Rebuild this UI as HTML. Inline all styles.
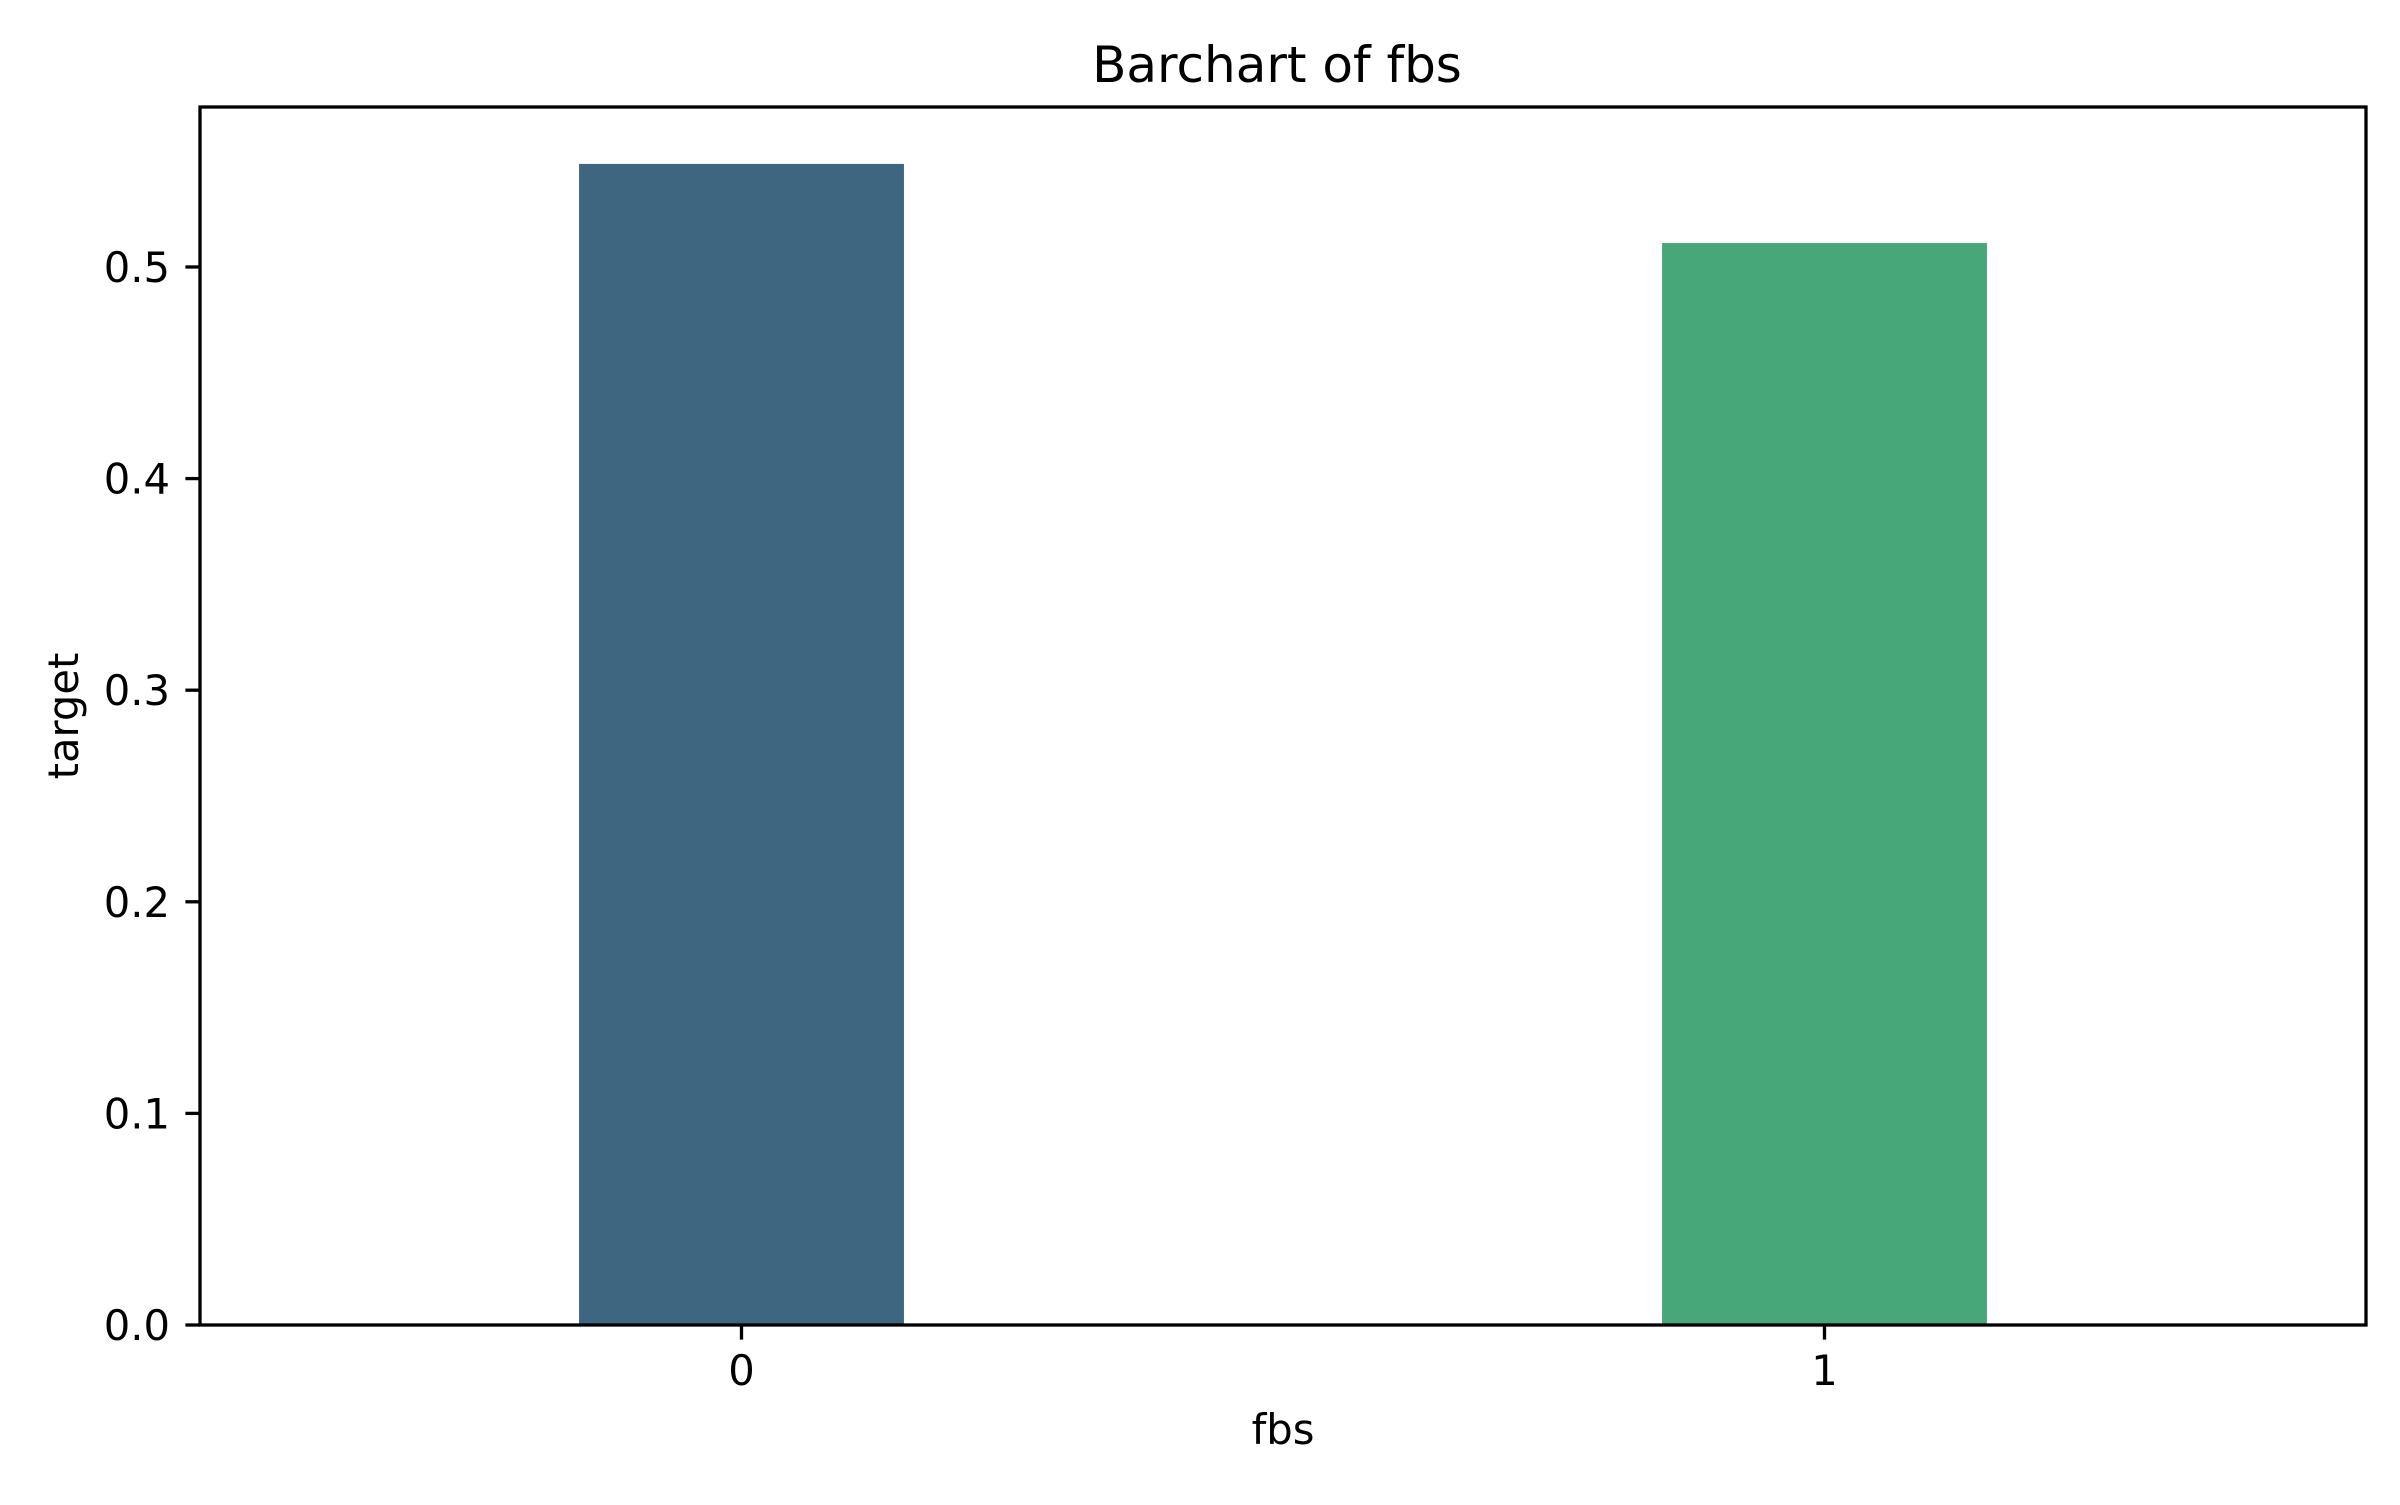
<!DOCTYPE html>
<html><head><meta charset="utf-8"><style>
html,body{margin:0;padding:0;background:#fff;}
svg text{font-family:"DejaVu Sans","Liberation Sans",sans-serif;fill:#000;}
</style></head><body>
<svg id="chart" width="2400" height="1500" viewBox="0 0 2400 1500" xmlns="http://www.w3.org/2000/svg">
<rect x="0" y="0" width="2400" height="1500" fill="#fff"/>
<g id="bars"></g>
<g id="yticks"></g>
<g id="xticks"></g>
<rect x="200" y="107" width="2166" height="1218" fill="none" stroke="#000" stroke-width="3.3"/>
<text x="1277" y="82" font-size="50" text-anchor="middle">Barchart of fbs</text>
<text x="1283" y="1444" font-size="41.7" text-anchor="middle">fbs</text>
<text transform="translate(78,716) rotate(-90)" font-size="41.7" text-anchor="middle">target</text>
</svg>
<script>
const categories = ["0", "1"];
const values = [0.5487, 0.5113];
const barColors = ["#3e6680", "#47a779"];
const yTicks = [0.0, 0.1, 0.2, 0.3, 0.4, 0.5];
const yTickLabels = ["0.0", "0.1", "0.2", "0.3", "0.4", "0.5"];

const NS = "http://www.w3.org/2000/svg";
const plotL = 200, plotR = 2366, plotT = 107, plotB = 1325;
const yMin = 0, yMax = 0.5756;
function xScale(i) { return plotL + (i + 0.5) / categories.length * (plotR - plotL); }
function yScale(v) { return plotB - (v - yMin) / (yMax - yMin) * (plotB - plotT); }
const bw = 0.3 * (plotR - plotL) / categories.length;

const barsG = document.getElementById('bars');
categories.forEach((c, i) => {
  const r = document.createElementNS(NS, 'rect');
  
  
  r.setAttribute('x', xScale(i) - bw / 2);
  r.setAttribute('y', yScale(values[i]));
  r.setAttribute('width', bw);
  r.setAttribute('height', yScale(0) - yScale(values[i]));
  r.setAttribute('fill', barColors[i % barColors.length]);
  barsG.appendChild(r);
});

const yG = document.getElementById('yticks');
yTicks.forEach((t, i) => {
  const y = yScale(t);
  const l = document.createElementNS(NS, 'line');
  
  
  l.setAttribute('x1', plotL - 14.6); l.setAttribute('x2', plotL);
  l.setAttribute('y1', y); l.setAttribute('y2', y);
  l.setAttribute('stroke', '#000'); l.setAttribute('stroke-width', '3.3');
  yG.appendChild(l);
  const tx = document.createElementNS(NS, 'text');
  
  
  tx.setAttribute('x', plotL - 30); tx.setAttribute('y', y + 15);
  tx.setAttribute('font-size', '41.7'); tx.setAttribute('text-anchor', 'end');
  tx.textContent = yTickLabels[i];
  yG.appendChild(tx);
});

const xG = document.getElementById('xticks');
categories.forEach((c, i) => {
  const x = xScale(i);
  const l = document.createElementNS(NS, 'line');
  
  
  l.setAttribute('x1', x); l.setAttribute('x2', x);
  l.setAttribute('y1', plotB); l.setAttribute('y2', plotB + 14.6);
  l.setAttribute('stroke', '#000'); l.setAttribute('stroke-width', '3.3');
  xG.appendChild(l);
  const tx = document.createElementNS(NS, 'text');
  
  
  tx.setAttribute('x', x); tx.setAttribute('y', 1385);
  tx.setAttribute('font-size', '41.7'); tx.setAttribute('text-anchor', 'middle');
  tx.textContent = c;
  xG.appendChild(tx);
});
</script>
</body></html>
